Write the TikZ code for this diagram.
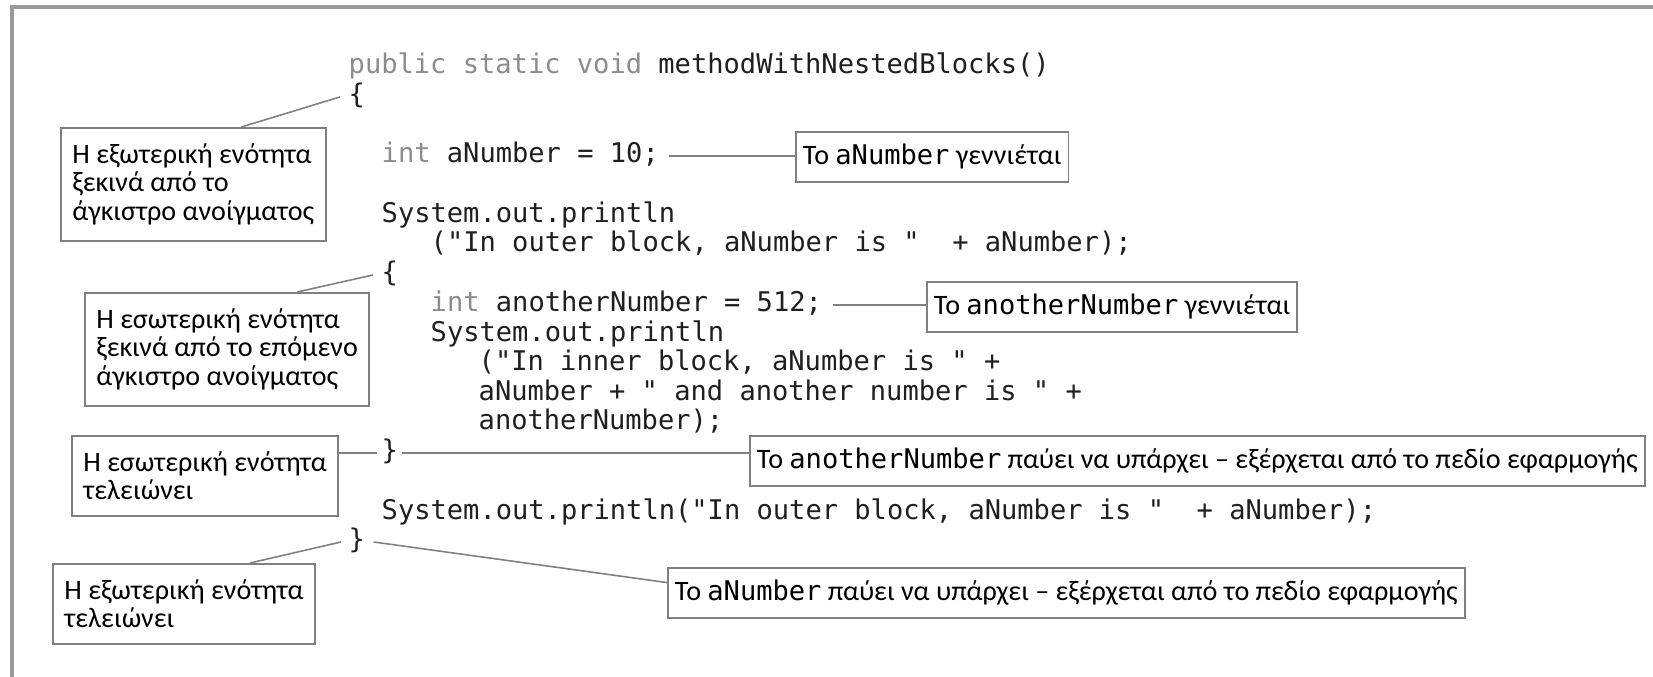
\documentclass[tikz,border=0pt]{standalone}
\usepackage{fontspec}
\setmainfont{Carlito}
\setmonofont{DejaVu Sans Mono}
\usetikzlibrary{calc}

\definecolor{framegray}{gray}{0.6}
\definecolor{boxgray}{gray}{0.5}
\definecolor{kwgray}{gray}{0.55}
\definecolor{codeink}{gray}{0.12}

% keywords are printed lighter than the rest of the code
\newcommand\kw[1]{\textcolor{kwgray}{#1}}
\newcommand\vname[1]{{\ttfamily\fontsize{7.7}{8}\selectfont #1}}

\tikzset{
  code/.style={anchor=west, inner sep=0pt, text=codeink, text height=0.2cm, text depth=0.06cm,
    font=\ttfamily\fontsize{7.7}{9}\selectfont},
  note/.style={draw=boxgray, line width=0.55pt, anchor=north west, align=left,
    inner xsep=0.115cm, inner ysep=0.16cm, font=\fontsize{8}{8}\selectfont},
  tag/.style={draw=boxgray, line width=0.55pt, anchor=north west, inner xsep=0.07cm,
    minimum height=0.5cm, font=\fontsize{8}{8}\selectfont},
  link/.style={draw=boxgray, line width=0.45pt},
}

\begin{document}
\begin{tikzpicture}[x=0.01cm, y=-0.01cm]
  \useasboundingbox (0,0) rectangle (1653,677);
  \draw[framegray, line width=0.9pt] (12,677) -- (12,7) -- (1653,7);

  % the method, one node per line
  \node[code] (head)   at (348,67)  {\kw{public static void} methodWithNestedBlocks()};
  \node[code] (open1)  at (348,97)  {\{};
  \node[code] (decl1)  at (381,156) {\kw{int} aNumber = 10;};
  \node[code] (print1) at (381,216) {System.out.println};
  \node[code] (arg1)   at (430,245) {("In outer block, aNumber is "~~+ aNumber);};
  \node[code] (open2)  at (381,275) {\{};
  \node[code] (decl2)  at (430,305) {\kw{int} anotherNumber = 512;};
  \node[code] (print2) at (430,335) {System.out.println};
  \node[code] (arg2a)  at (478,364) {("In inner block, aNumber is " +};
  \node[code] (arg2b)  at (478,394) {aNumber + " and another number is " +};
  \node[code] (arg2c)  at (478,423) {anotherNumber);};
  \node[code] (close2) at (381,453) {\}};
  \node[code] (print3) at (381,513) {System.out.println("In outer block, aNumber is "~~+ aNumber);};
  \node[code] (close1) at (348,542) {\}};

  % notes on the left: where the blocks open and close
  \node[note] (outerbegin) at (60,127) {Η εξωτερική ενότητα\\ξεκινά από το\\άγκιστρο ανοίγματος};
  \node[note] (innerbegin) at (84,292) {Η εσωτερική ενότητα\\ξεκινά από το επόμενο\\άγκιστρο ανοίγματος};
  \node[note] (innerend)   at (71,435) {Η εσωτερική ενότητα\\τελειώνει};
  \node[note] (outerend)   at (52,563) {Η εξωτερική ενότητα\\τελειώνει};

  % notes on the right: life of the variables
  \node[tag] (born1) at (795,131) {Το \vname{aNumber} γεννιέται};
  \node[tag] (born2) at (926,281) {Το \vname{anotherNumber} γεννιέται};
  \node[tag] (gone2) at (749,435) {Το \vname{anotherNumber} παύει να υπάρχει – εξέρχεται από το πεδίο εφαρμογής};
  \node[tag] (gone1) at (667,567) {Το \vname{aNumber} παύει να υπάρχει – εξέρχεται από το πεδίο εφαρμογής};

  \draw[link] ($(outerbegin.north west)!0.68!(outerbegin.north east)$) -- ([xshift=-0.08cm]open1.west);
  \draw[link] ($(innerbegin.north west)!0.745!(innerbegin.north east)$) -- ([xshift=-0.08cm]open2.west);
  \draw[link] (innerend.east |- close2.west) -- ([xshift=-0.04cm]close2.west);
  \draw[link] ($(outerend.north west)!0.75!(outerend.north east)$) -- ([xshift=-0.07cm]close1.west);
  \draw[link] ([xshift=0.09cm]decl1.east) -- (decl1.east -| born1.west);
  \draw[link] ([xshift=0.1cm]decl2.east) -- (decl2.east -| born2.west);
  \draw[link] ([xshift=0.03cm]close2.east) -- (close2.east -| gone2.west);
  \draw[link] ([xshift=0.08cm]close1.east) -- ($(gone1.north west)!0.3!(gone1.south west)$);
\end{tikzpicture}
\end{document}
